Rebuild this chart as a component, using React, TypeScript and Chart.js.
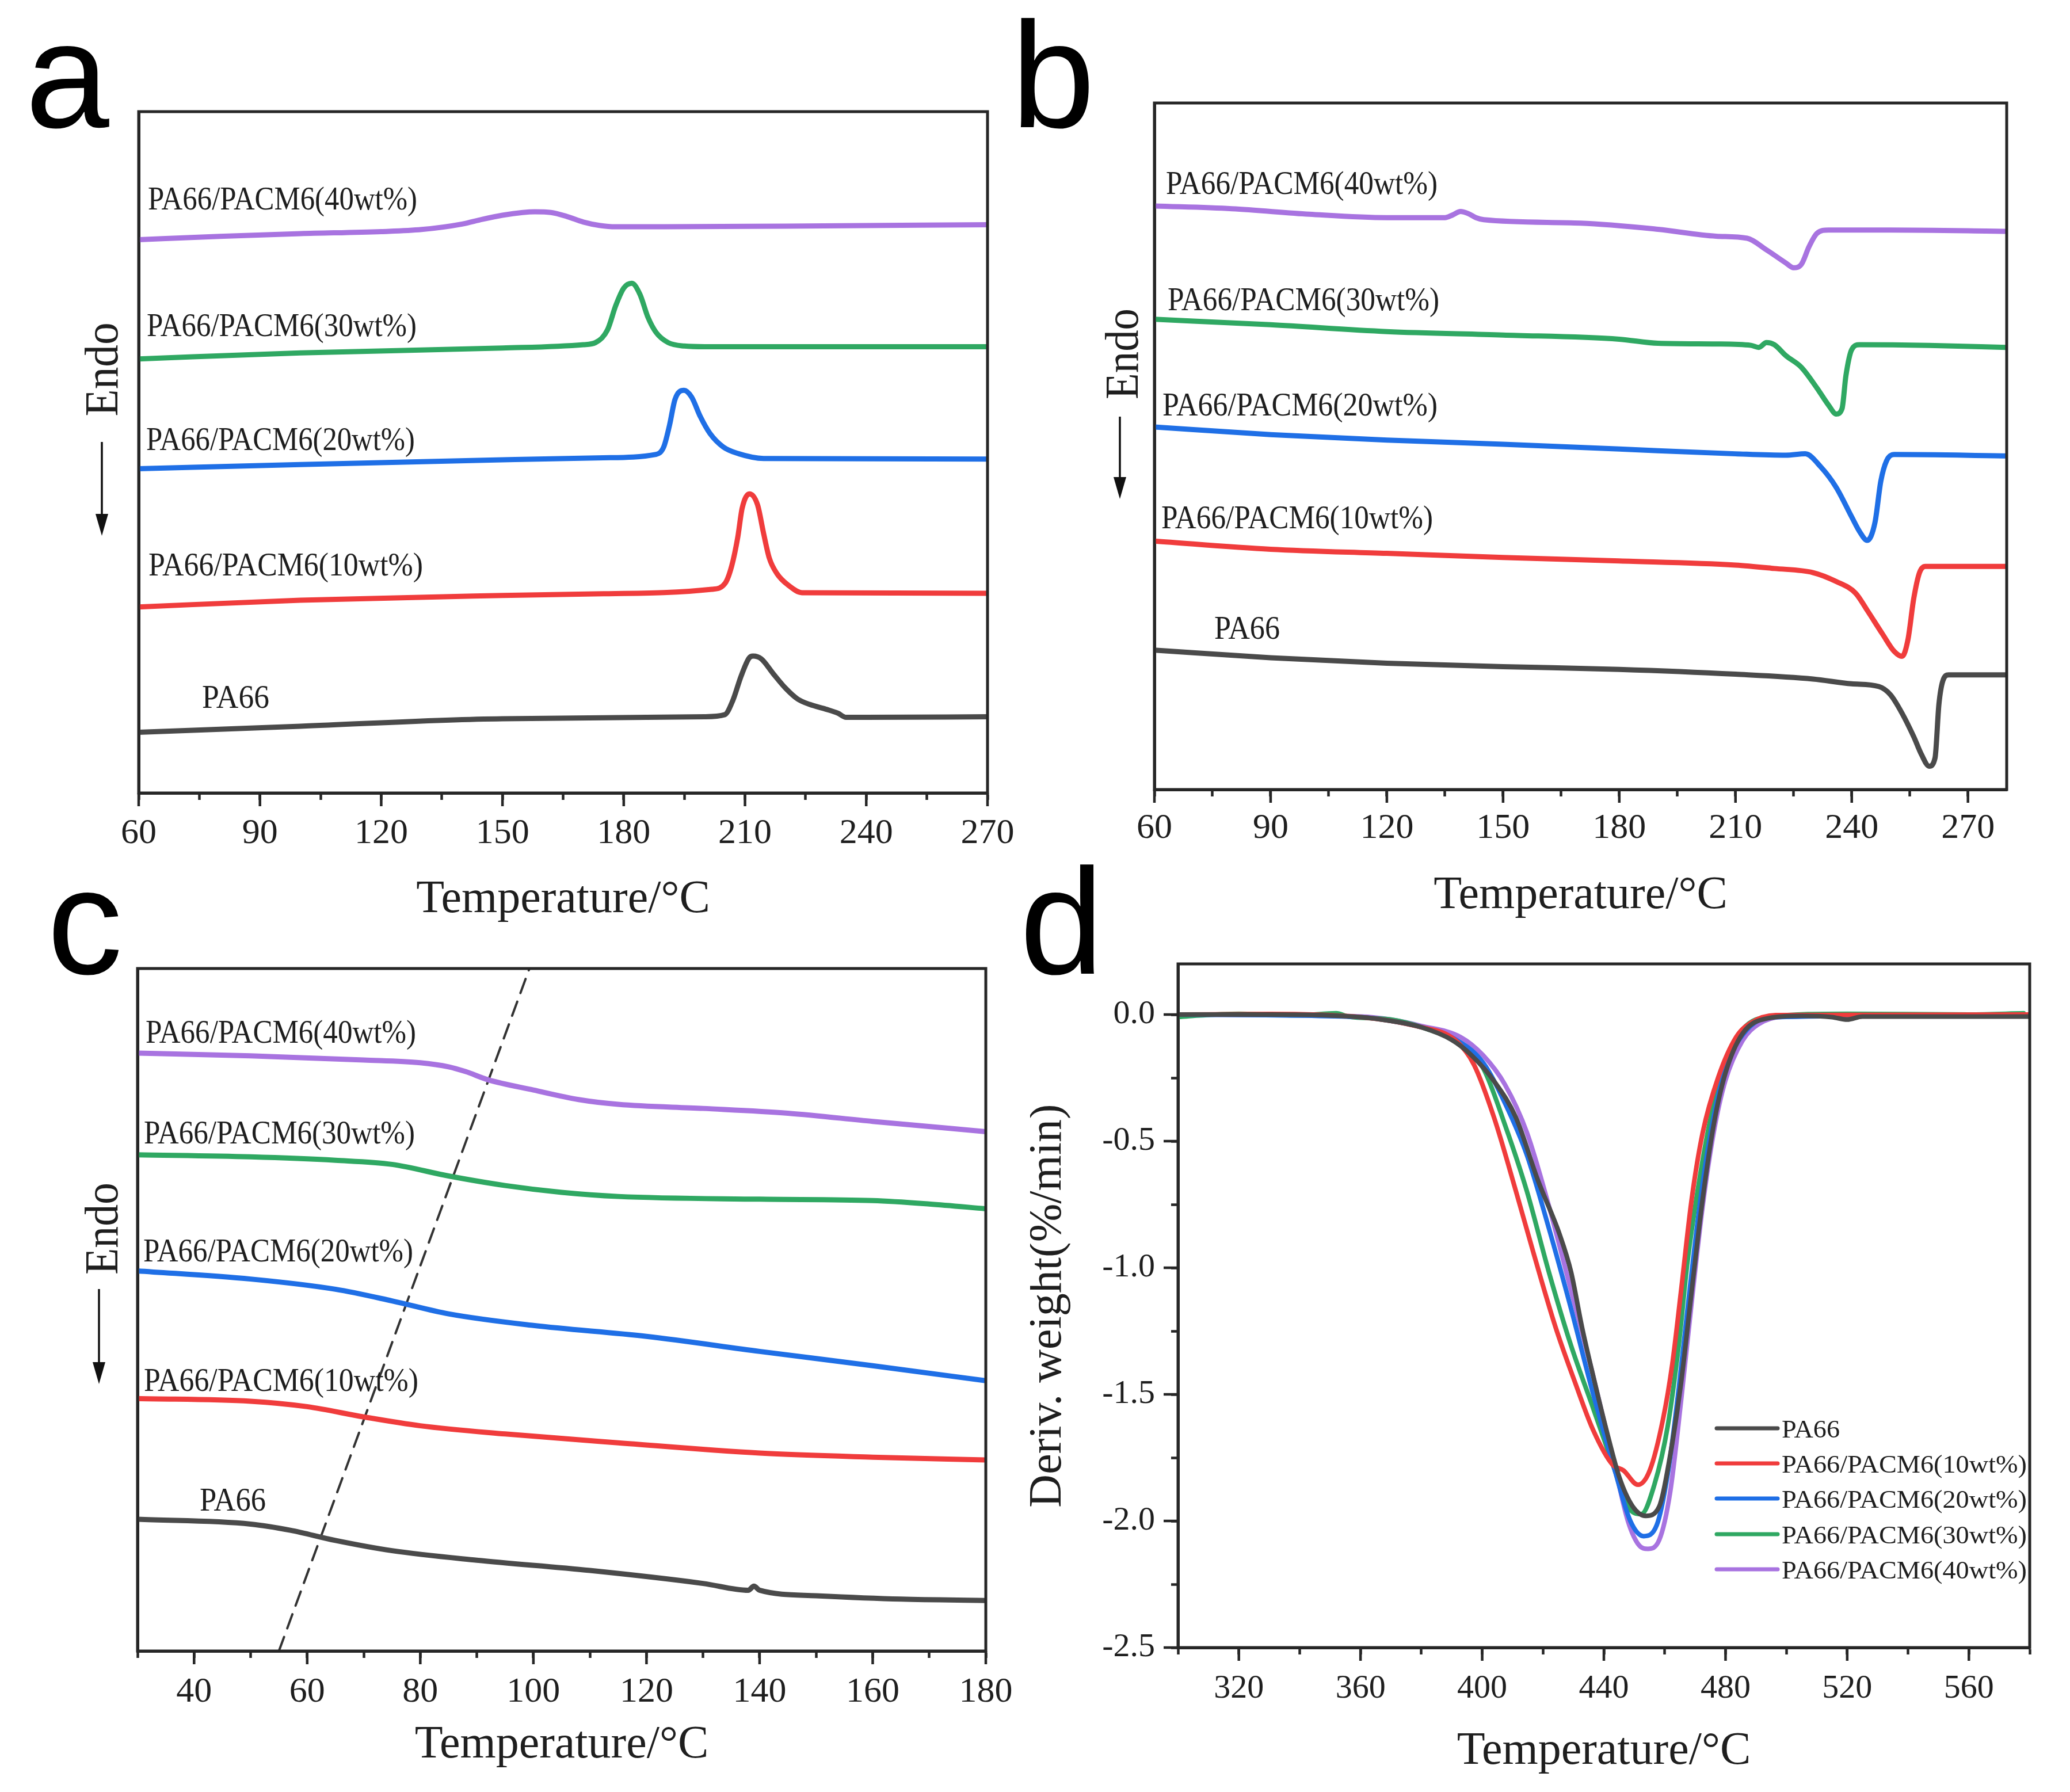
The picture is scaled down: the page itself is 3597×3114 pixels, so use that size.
import React, { useEffect, useRef } from "react";
import { Chart, registerables } from "chart.js";

Chart.register(...registerables);

// ---------------- DATA ----------------
const SERIES_NAMES = ["PA66", "PA66/PACM6(10wt%)", "PA66/PACM6(20wt%)", "PA66/PACM6(30wt%)", "PA66/PACM6(40wt%)"];
const X_TITLE = "Temperature/°C";
const Y_TITLE_D = "Deriv. weight(%/min)";
const ENDO = "Endo";
const PANEL_LETTERS = ["a", "b", "c", "d"];

// Panel a (cooling DSC) – temperature / relative heat flow (arbitrary units)
const A_T0 = [60, 100, 150, 200, 205, 207, 209, 211, 212, 214, 217, 220, 223, 226, 230, 233, 235, 240, 270];
const A_V0 = [8.9, 9.8, 10.9, 11.2, 11.5, 13.6, 17.1, 19.8, 20.1, 19.7, 17.5, 15.4, 13.8, 13.0, 12.3, 11.7, 11.1, 11.1, 11.2];
const A_T10 = [60, 100, 150, 175, 201.8, 205.1, 206.7, 208.2, 209.3, 211.1, 213.1, 214.6, 216, 217.9, 220.7, 224.1, 270];
const A_V10 = [27.3, 28.3, 29.0, 29.25, 29.9, 30.8, 33.3, 37.5, 41.8, 43.9, 42.3, 38.1, 34.5, 32.2, 30.5, 29.4, 29.3];
const A_T20 = [60, 100, 150, 175, 188, 189.9, 191.3, 192.7, 194.9, 196.8, 198.9, 201.3, 204.6, 208.4, 214.6, 270];
const A_V20 = [47.6, 48.2, 48.9, 49.2, 49.7, 50.8, 53.9, 57.8, 59.1, 58.1, 55.3, 52.8, 50.8, 49.8, 49.1, 49.0];
const A_T30 = [60, 100, 150, 170, 173, 176, 178, 180, 182, 184, 186, 188, 191, 195, 200, 270];
const A_V30 = [63.7, 64.6, 65.3, 65.8, 66.1, 68.0, 71.5, 74.1, 74.8, 73.2, 69.8, 67.6, 66.1, 65.6, 65.5, 65.5];
const A_T40 = [60, 80, 100, 120, 130, 140, 145, 150, 155, 158, 162, 166, 170, 174, 178, 190, 220, 270];
const A_V40 = [81.2, 81.7, 82.1, 82.4, 82.7, 83.5, 84.2, 84.8, 85.2, 85.3, 85.2, 84.6, 83.8, 83.3, 83.1, 83.1, 83.2, 83.4];

// Panel b (melting DSC)
const B_T0 = [60, 90, 120, 150, 180, 210, 230, 240, 247, 250, 253, 256, 258, 260, 261.5, 262.5, 263.5, 265, 280];
const B_V0 = [20.3, 19.2, 18.4, 17.9, 17.5, 16.8, 16.1, 15.4, 15.0, 13.8, 11.1, 7.7, 5.1, 3.4, 4.6, 12.4, 15.8, 16.7, 16.7];
const B_T10 = [60, 90, 120, 150, 180, 210, 220, 230, 236, 241, 244, 248, 251, 253, 254.5, 256, 257.5, 259, 280];
const B_V10 = [36.2, 35.0, 34.4, 33.8, 33.3, 32.7, 32.2, 31.6, 30.3, 28.6, 26.1, 22.6, 20.1, 19.4, 21.8, 27.8, 31.6, 32.5, 32.5];
const B_T20 = [60, 90, 120, 150, 180, 210, 223, 228, 232, 236, 240, 242, 244, 246, 247.5, 249, 251, 280];
const B_V20 = [52.8, 51.7, 50.9, 50.3, 49.6, 48.9, 48.7, 48.9, 47.0, 44.0, 39.7, 37.6, 36.3, 38.9, 44.9, 47.9, 48.8, 48.6];
const B_T30 = [60, 90, 120, 150, 180, 190, 205, 214, 216, 218, 220, 223, 227, 231, 234, 236, 237.5, 238.5, 240, 242, 260, 280];
const B_V30 = [68.5, 67.7, 66.7, 66.2, 65.6, 65.0, 64.9, 64.7, 64.4, 65.1, 64.8, 63.2, 61.5, 58.5, 56.0, 54.7, 55.5, 60.3, 64.1, 64.8, 64.7, 64.4];
const B_T40 = [60, 80, 100, 120, 135, 137, 139, 141, 143, 145, 170, 190, 205, 213, 218, 223, 225, 227, 229, 231, 234, 250, 280];
const B_V40 = [85.0, 84.6, 83.8, 83.3, 83.3, 83.7, 84.2, 83.9, 83.3, 83.0, 82.5, 81.6, 80.6, 80.3, 78.6, 76.7, 76.0, 76.5, 79.1, 81.0, 81.5, 81.5, 81.3];

// Panel c (glass transition)
const C_T0 = [30, 50, 57, 65, 75, 90, 110, 130, 138, 139, 140, 150, 165, 180];
const C_V0 = [19.3, 18.6, 17.7, 16.2, 14.7, 13.3, 11.8, 9.9, 8.9, 9.5, 8.9, 8.1, 7.6, 7.4];
const C_T10 = [30, 50, 60, 70, 80, 95, 115, 140, 160, 180];
const C_V10 = [37.0, 36.6, 35.8, 34.3, 33.0, 31.8, 30.5, 29.0, 28.4, 28.0];
const C_T20 = [30, 50, 65, 75, 85, 100, 120, 140, 160, 180];
const C_V20 = [55.7, 54.5, 53.0, 51.3, 49.4, 47.7, 46.1, 43.9, 41.8, 39.6];
const C_T30 = [30, 50, 65, 75, 85, 95, 105, 115, 140, 160, 170, 180];
const C_V30 = [72.7, 72.4, 71.9, 71.3, 69.6, 68.2, 67.2, 66.6, 66.2, 66.0, 65.5, 64.8];
const C_T40 = [30, 50, 70, 80, 85, 88, 92, 100, 108, 115, 130, 145, 160, 180];
const C_V40 = [87.6, 87.2, 86.6, 86.2, 85.6, 84.9, 83.7, 82.2, 80.8, 80.1, 79.5, 78.8, 77.6, 76.1];
const C_DASH_T = [55, 99.3];
const C_DASH_V = [0, 100];

// Panel d (DTG)
const D_T0 = [300, 330, 360, 370, 380, 390, 396.5, 403.9, 411.1, 418.3, 425.5, 429.2, 432.8, 436.4, 440.8, 445.1, 449.5, 453.8, 458.2, 461.8, 465.4, 468.9, 472.5, 476.1, 479.9, 485.6, 494.3, 505, 515, 520, 525, 580];
const D_V0 = [0, 0, -0.01, -0.025, -0.05, -0.1, -0.161, -0.263, -0.407, -0.654, -0.87, -1.016, -1.234, -1.423, -1.639, -1.828, -1.943, -1.98, -1.943, -1.741, -1.452, -1.089, -0.727, -0.436, -0.234, -0.075, -0.014, -0.005, -0.01, -0.02, -0.008, -0.008];
const D_T10 = [300, 330, 360, 370, 380, 387.8, 392, 397.3, 403.9, 411.1, 416.9, 424.1, 430.5, 436.4, 442.8, 446.4, 451.2, 455.1, 459.5, 462.5, 465.4, 468.9, 472.5, 477.6, 483.5, 488.4, 496.5, 580];
const D_V10 = [0, 0.002, -0.01, -0.025, -0.05, -0.075, -0.11, -0.198, -0.407, -0.698, -0.943, -1.234, -1.452, -1.639, -1.777, -1.8, -1.857, -1.8, -1.595, -1.38, -1.089, -0.727, -0.466, -0.248, -0.089, -0.032, -0.002, 0];
const D_T20 = [300, 360, 370, 380, 390, 400.3, 407.5, 414.7, 421.9, 429.2, 436.4, 443.6, 448.7, 453.1, 457.4, 461.0, 464.6, 468.2, 471.8, 475.6, 479.9, 487.1, 496.5, 580];
const D_V20 = [0, -0.01, -0.025, -0.05, -0.09, -0.19, -0.35, -0.555, -0.843, -1.161, -1.495, -1.8, -2.0, -2.06, -2.016, -1.814, -1.48, -1.089, -0.727, -0.436, -0.218, -0.059, -0.01, -0.003];
const D_T30 = [300, 305, 320, 340, 352, 356, 370, 380, 392.9, 400.3, 407.5, 414.7, 421.9, 429.2, 436.4, 443.6, 447.9, 452.3, 456.6, 461.0, 464.6, 467.4, 471.2, 475.6, 479.9, 485.6, 494.3, 520, 560, 578];
const D_V30 = [-0.01, -0.005, 0.003, -0.003, 0.005, -0.008, -0.02, -0.05, -0.118, -0.211, -0.436, -0.698, -1.016, -1.307, -1.552, -1.8, -1.943, -1.973, -1.857, -1.625, -1.307, -0.986, -0.668, -0.38, -0.191, -0.059, -0.009, 0.003, 0, 0.005];
const D_T40 = [300, 360, 370, 380, 392.9, 400.3, 407.5, 414.7, 421.9, 429.2, 436.4, 443.6, 447.9, 451.5, 454.5, 458.2, 461.8, 465.4, 468.9, 472.5, 476.1, 479.9, 485.6, 490.7, 498.6, 580];
const D_V40 = [0, -0.008, -0.02, -0.045, -0.089, -0.161, -0.277, -0.466, -0.755, -1.089, -1.423, -1.785, -2.0, -2.095, -2.11, -2.075, -1.886, -1.523, -1.132, -0.755, -0.466, -0.263, -0.103, -0.039, -0.009, 0];

// ---------------- STYLE ----------------
const COLORS = ["#4a4a4a", "#f03c3c", "#1f6fe6", "#2fa862", "#a873e0"];
const SERIF = "'Liberation Serif', 'Times New Roman', serif";
const SANS = "'Liberation Sans', Arial, sans-serif";
const AXIS = "#262626";
const TEXT = "#1e1e1e";
const TITLE_SIZE = 80;

type Panel = {
  left: number; top: number; width: number; height: number;
  plot: { l: number; t: number; r: number; b: number };
  xMin: number; xMax: number; xStep: number; xMajor: number; xPad: number;
  yMin: number; yMax: number; yStep?: number; yMajor?: number; yTicks: boolean;
  tickSize: number; titlePad: number;
  series: { t: number[]; v: number[]; color: string; width: number; dash?: number[] }[];
};

const pts = (t: number[], v: number[]) => t.map((x, i) => ({ x, y: v[i] }));
const isMajor = (v: number, m: number) => Math.abs(v / m - Math.round(v / m)) < 1e-6;

const PANELS: Panel[] = [
  {
    left: 0, top: 0, width: 1790, height: 1680,
    plot: { l: 241, t: 194, r: 1716, b: 1378 },
    xMin: 60, xMax: 270, xStep: 15, xMajor: 30, xPad: 22,
    yMin: 0, yMax: 100, yTicks: false, tickSize: 62, titlePad: 68,
    series: [
      { t: A_T0, v: A_V0, color: COLORS[0], width: 9 },
      { t: A_T10, v: A_V10, color: COLORS[1], width: 9 },
      { t: A_T20, v: A_V20, color: COLORS[2], width: 9 },
      { t: A_T30, v: A_V30, color: COLORS[3], width: 9 },
      { t: A_T40, v: A_V40, color: COLORS[4], width: 9 },
    ],
  },
  {
    left: 1790, top: 0, width: 1807, height: 1680,
    plot: { l: 216, t: 179, r: 1697, b: 1372 },
    xMin: 60, xMax: 280, xStep: 15, xMajor: 30, xPad: 19,
    yMin: 0, yMax: 100, yTicks: false, tickSize: 62, titlePad: 75,
    series: [
      { t: B_T0, v: B_V0, color: COLORS[0], width: 9 },
      { t: B_T10, v: B_V10, color: COLORS[1], width: 9 },
      { t: B_T20, v: B_V20, color: COLORS[2], width: 9 },
      { t: B_T30, v: B_V30, color: COLORS[3], width: 9 },
      { t: B_T40, v: B_V40, color: COLORS[4], width: 9 },
    ],
  },
  {
    left: 0, top: 1600, width: 1790, height: 1514,
    plot: { l: 239, t: 83, r: 1713, b: 1269 },
    xMin: 30, xMax: 180, xStep: 10, xMajor: 20, xPad: 23,
    yMin: 0, yMax: 100, yTicks: false, tickSize: 62, titlePad: 33,
    series: [
      { t: C_T0, v: C_V0, color: COLORS[0], width: 9 },
      { t: C_T10, v: C_V10, color: COLORS[1], width: 9 },
      { t: C_T20, v: C_V20, color: COLORS[2], width: 9 },
      { t: C_T30, v: C_V30, color: COLORS[3], width: 9 },
      { t: C_T40, v: C_V40, color: COLORS[4], width: 9 },
      { t: C_DASH_T, v: C_DASH_V, color: "#333333", width: 4, dash: [26, 16] },
    ],
  },
  {
    left: 1790, top: 1600, width: 1807, height: 1514,
    plot: { l: 257, t: 75, r: 1737, b: 1263 },
    xMin: 300, xMax: 580, xStep: 20, xMajor: 40, xPad: 25,
    yMin: -2.5, yMax: 0.2, yStep: 0.25, yMajor: 0.5, yTicks: true, tickSize: 58, titlePad: 22,
    series: [
      { t: D_T0, v: D_V0, color: COLORS[0], width: 8 },
      { t: D_T10, v: D_V10, color: COLORS[1], width: 8 },
      { t: D_T20, v: D_V20, color: COLORS[2], width: 8 },
      { t: D_T30, v: D_V30, color: COLORS[3], width: 8 },
      { t: D_T40, v: D_V40, color: COLORS[4], width: 8 },
    ],
  },
];

// frame (top/right) + long major tick marks
const framePlugin = {
  id: "frame",
  afterDraw(chart: any) {
    const { ctx, chartArea } = chart;
    const { left, top, right, bottom } = chartArea;
    ctx.save();
    ctx.strokeStyle = AXIS;
    ctx.lineWidth = 5;
    ctx.strokeRect(left, top, right - left, bottom - top);
    ctx.lineWidth = 4.5;
    const xs = chart.scales.x;
    xs.ticks.forEach((t: any) => {
      if (!t.label) return;
      const px = xs.getPixelForValue(t.value);
      ctx.beginPath();
      ctx.moveTo(px, bottom);
      ctx.lineTo(px, bottom + 23);
      ctx.stroke();
    });
    const ys = chart.scales.y;
    if (ys.options.ticks.display) {
      ys.ticks.forEach((t: any) => {
        if (!t.label) return;
        const py = ys.getPixelForValue(t.value);
        ctx.beginPath();
        ctx.moveTo(left, py);
        ctx.lineTo(left - 25, py);
        ctx.stroke();
      });
    }
    ctx.restore();
  },
};

function buildConfig(p: Panel): any {
  const tickFont = { family: SERIF, size: p.tickSize };
  const titleFont = { family: SERIF, size: TITLE_SIZE };
  return {
    type: "line",
    data: {
      datasets: p.series.map((s) => ({
        data: pts(s.t, s.v),
        borderColor: s.color,
        borderWidth: s.width,
        borderDash: s.dash || [],
        pointRadius: 0,
        fill: false,
        cubicInterpolationMode: s.dash ? "default" : "monotone",
        tension: s.dash ? 0 : 0.4,
        borderCapStyle: "round",
        borderJoinStyle: "round",
      })),
    },
    options: {
      responsive: false,
      animation: false,
      devicePixelRatio: 1,
      events: [],
      layout: { padding: { left: 0, top: p.plot.t, right: p.width - p.plot.r, bottom: 0 } },
      plugins: { legend: { display: false }, tooltip: { enabled: false } },
      scales: {
        x: {
          type: "linear",
          min: p.xMin,
          max: p.xMax,
          afterFit: (s: any) => { s.height = p.height - p.plot.b; },
          border: { display: true, color: AXIS, width: 5 },
          grid: { display: true, drawOnChartArea: false, drawTicks: true, tickLength: 12, tickWidth: 4.5, tickColor: AXIS, color: AXIS },
          ticks: {
            stepSize: p.xStep, autoSkip: false, maxRotation: 0, minRotation: 0, includeBounds: false,
            padding: p.xPad, color: TEXT, font: tickFont,
            callback: (v: number) => (isMajor(v, p.xMajor) ? String(Math.round(v)) : ""),
          },
          title: { display: true, text: X_TITLE, color: TEXT, font: titleFont, padding: { top: 0, bottom: p.titlePad } },
        },
        y: {
          type: "linear",
          min: p.yMin,
          max: p.yMax,
          afterFit: (s: any) => { s.width = p.plot.l; },
          border: { display: true, color: AXIS, width: 5 },
          grid: { display: p.yTicks, drawOnChartArea: false, drawTicks: true, tickLength: 12, tickWidth: 4.5, tickColor: AXIS, color: AXIS },
          ticks: p.yTicks
            ? {
                display: true, stepSize: p.yStep, autoSkip: false, includeBounds: false, padding: 28,
                color: TEXT, font: tickFont,
                callback: (v: number) => (isMajor(v, p.yMajor as number) ? (Math.abs(v) < 1e-9 ? 0 : v).toFixed(1) : ""),
              }
            : { display: false },
          title: p.yTicks
            ? { display: true, text: Y_TITLE_D, color: TEXT, font: { family: SERIF, size: TITLE_SIZE, lineHeight: 0.8 }, padding: 0 }
            : { display: false },
        },
      },
    },
    plugins: [framePlugin],
  };
}

function ChartPanel({ p }: { p: Panel }) {
  const ref = useRef<HTMLCanvasElement | null>(null);
  useEffect(() => {
    if (!ref.current) return;
    const chart = new Chart(ref.current, buildConfig(p));
    return () => chart.destroy();
  }, [p]);
  return (
    <canvas
      ref={ref}
      width={p.width}
      height={p.height}
      style={{ position: "absolute", left: p.left, top: p.top, width: p.width, height: p.height }}
    />
  );
}

// ---------------- ANNOTATION LAYOUT ----------------
// [seriesIndex, x, baseline, textLength]
const LABELS_A = [[4, 257, 364, 468], [3, 255, 584, 469], [2, 254, 782, 467], [1, 258, 1000, 477], [0, 351, 1230, 117]];
const LABELS_B = [[4, 2026, 337, 472], [3, 2029, 539, 472], [2, 2020, 722, 478], [1, 2018, 918, 472], [0, 2110, 1110, 114]];
const LABELS_C = [[4, 253, 1812, 470], [3, 250, 1987, 471], [2, 249, 2192, 469], [1, 250, 2417, 477], [0, 347, 2625, 115]];
// [x baseline, y center, textLength, arrowX, arrowTop, arrowTip]
const ENDO_POS = [[204, 642, 163, 177, 768, 931], [1977, 615, 158, 1946, 724, 867], [204, 2135, 160, 172, 2240, 2405]];
// [x, baseline]
const LETTER_POS = [[44, 221], [1757, 221], [82, 1692], [1772, 1692]];
const LEGEND_Y = [2482, 2543, 2604, 2666, 2727];

function Overlay() {
  const labels = [...LABELS_A, ...LABELS_B, ...LABELS_C];
  return (
    <svg
      width={3597}
      height={3114}
      style={{ position: "absolute", left: 0, top: 0, pointerEvents: "none" }}
    >
      {PANEL_LETTERS.map((l, i) => (
        <text key={"L" + l} x={LETTER_POS[i][0]} y={LETTER_POS[i][1]} fontFamily={SANS} fontSize={262} fill="#000">
          {l}
        </text>
      ))}
      {labels.map((l, i) => (
        <text
          key={"s" + i}
          x={l[1]}
          y={l[2]}
          fontFamily={SERIF}
          fontSize={57}
          fill={TEXT}
          textLength={l[3]}
          lengthAdjust="spacingAndGlyphs"
        >
          {SERIES_NAMES[l[0]]}
        </text>
      ))}
      {ENDO_POS.map((e, i) => (
        <g key={"e" + i}>
          <text
            transform={`translate(${e[0]}, ${e[1]}) rotate(-90)`}
            x={0}
            y={0}
            textAnchor="middle"
            fontFamily={SERIF}
            fontSize={82}
            fill={TEXT}
            textLength={e[2]}
            lengthAdjust="spacingAndGlyphs"
          >
            {ENDO}
          </text>
          <line x1={e[3]} y1={e[4]} x2={e[3]} y2={e[5] - 30} stroke="#111" strokeWidth={3.5} />
          <polygon points={`${e[3] - 11},${e[5] - 38} ${e[3] + 11},${e[5] - 38} ${e[3]},${e[5]}`} fill="#111" />
        </g>
      ))}
      {SERIES_NAMES.map((n, i) => (
        <g key={"lg" + i}>
          <line x1={2983} y1={LEGEND_Y[i]} x2={3089} y2={LEGEND_Y[i]} stroke={COLORS[i]} strokeWidth={7} strokeLinecap="round" />
          <text
            x={3096}
            y={LEGEND_Y[i] + 16}
            fontFamily={SERIF}
            fontSize={44}
            fill={TEXT}
            textLength={i === 0 ? 101 : 426}
            lengthAdjust="spacingAndGlyphs"
          >
            {n}
          </text>
        </g>
      ))}
    </svg>
  );
}

export default function App() {
  return (
    <div style={{ position: "absolute", left: 0, top: 0, width: 3597, height: 3114, background: "#fff", overflow: "hidden" }}>
      {PANELS.map((p, i) => (
        <ChartPanel key={i} p={p} />
      ))}
      <Overlay />
    </div>
  );
}
